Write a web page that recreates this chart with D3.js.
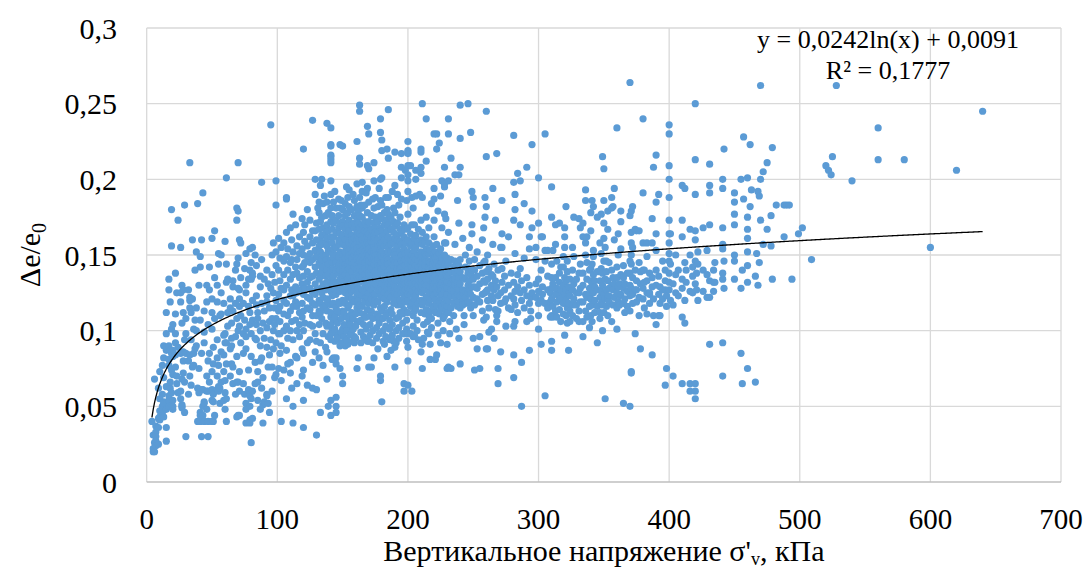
<!DOCTYPE html>
<html>
<head>
<meta charset="utf-8">
<script src="https://cdn.jsdelivr.net/npm/d3@7"></script>
<style>
  body { margin: 0; background: #fff; }
  text { font-family: "Liberation Serif", "DejaVu Serif", serif; fill: #000; }
</style>
</head>
<body>
<svg id="chart" width="1090" height="570"></svg>
<script>
'use strict';

// Each entry: [vertical stress σ'v (kPa), [Δe/e0 values measured at that stress]]
const lowStressCols = [
  [4,[.040]],[5,[.020,.022,.031]],[6,[.020,.068,.026]],[7,[.033,.030,.027,.024,.037]],
  [9,[.042,.025,.036,.062]],[10,[.041,.055,.073,.043,.047]],[12,[.046,.050,.077,.048,.058]],
  [13,[.043,.053,.082,.090,.052,.069]],[15,[.048,.036,.087,.063,.027,.112,.098]],
  [17,[.057,.090,.077,.050,.054,.134,.127,.081]],[18,[.087,.062,.119,.066]],
  [19,[.051,.085,.074,.059,.180,.156,.101]],[20,[.054,.048,.087,.083,.104,.050,.071]],
  [22,[.076,.084,.111,.138,.098,.092]],[23,[.070,.125,.065]],[24,[.059,.173,.089]],
  [26,[.060,.085,.055,.119,.155,.125]],[27,[.051,.049,.068,.050,.105,.130]],
  [28,[.086,.072,.112,.127,.080]],[29,[.046,.066,.183,.094]],[30,[.030,.085,.098,.108]],
  [32,[.080,.127,.058]],[33,[.084,.070,.120,.211,.122,.115]],[34,[.112,.094,.064]],
  [35,[.076,.160,.121]],[36,[.085,.077,.101]],[37,[.107,.140,.088]],[38,[.152,.100,.115,.090]],
  [39,[.040,.184,.062]],[40,[.059,.130,.075]],[41,[.046,.040,.044,.107,.149,.142]],
  [42,[.030,.061,.160,.085]],[43,[.061,.050,.044,.191]],[44,[.053,.052,.040,.099,.092,.113]],
  [46,[.119,.060,.048,.130,.070]],[47,[.060,.040,.030,.080,.104]],[48,[.085,.142,.127,.066]],
  [50,[.061,.054,.040,.073,.101,.121,.161,.112]],[51,[.058,.053,.040,.089,.078]],
  [52,[.044,.166,.108,.135]],[54,[.061,.070,.119,.094,.130,.082]],[55,[.077,.144,.151,.060,.063]],
  [56,[.062,.052,.110]],[57,[.066,.111,.150,.125,.086]],[59,[.054,.073,.084,.097,.118]],
  [60,[.059,.048,.098,.092,.159,.067]],[61,[.055,.040,.144,.092,.201,.132,.078]],
  [62,[.112,.134,.103]],[64,[.115,.121,.070,.088]],[65,[.090,.105,.095,.078]],
  [66,[.065,.076,.133,.129,.113]],[68,[.058,.096,.118,.140]],
  [69,[.043,.144,.108,.066,.083,.181,.173]],[70,[.066,.044,.148,.128,.179,.211,.100]],
  [71,[.060,.116,.103,.073,.044,.160,.121,.127]],[72,[.158,.092,.135,.110]],
  [74,[.065,.085,.098,.118]],[75,[.058,.107,.141]],[76,[.052,.039,.151,.130,.101,.048,.096,.125,.088]],
  [78,[.060,.116,.061,.074,.134]],[79,[.050,.041,.104,.057,.039,.154,.140,.112]],
  [80,[.055,.134,.026,.098,.145,.083]],[81,[.060,.155,.107,.042,.138,.136,.120]],
  [83,[.079,.150,.065,.095]],[84,[.117,.123,.094,.104,.143]],[85,[.066,.054,.073,.108,.112]],
  [87,[.129,.048,.090,.136,.100,.080]],[88,[.062,.082,.198,.118,.147]],[89,[.051,.069,.039,.105]],
  [90,[.053,.134,.095,.113]],[92,[.058,.119,.057,.089,.102,.123,.140]],[93,[.052,.076,.131]],
  [94,[.046,.106,.115,.084]],[95,[.236,.094,.128]],[96,[.060,.076,.137,.108,.150]],
  [97,[.100,.158,.125,.088]],[98,[.104,.115,.132,.069]],[99,[.071,.092,.108,.199,.143,.152,.183,.120]]
];

const midStressCols = [
  [101,[.161,.124,.098,.113,.140,.075]],[102,[.085,.098,.116,.148,.133,.106]],
  [103,[.040,.128,.090,.155,.067]],[105,[.074,.111,.158,.127,.146,.100,.120,.137]],
  [107,[.055,.087,.103,.188,.149,.187,.118,.130,.165]],[108,[.140,.110,.078,.095,.154]],
  [110,[.072,.079,.113,.123,.134,.168,.100,.145]],[111,[.062,.147,.127,.106,.160]],
  [112,[.039,.050,.094,.123,.137,.116,.152,.177]],[114,[.083,.107,.129,.142,.170,.119]],
  [115,[.065,.082,.116,.138,.156,.100,.147,.125]],[117,[.096,.104,.127,.151,.112,.135,.162]],
  [119,[.070,.154,.118,.131,.142,.109,.174,.088]],
  [120,[.036,.054,.074,.085,.220,.143,.150,.124,.113,.165,.100,.136]],
  [121,[.159,.128,.145,.105,.170]],[123,[.064,.149,.132,.115,.122,.139,.156,.092,.180]],
  [125,[.094,.114,.162,.128,.145,.135,.104,.151,.121,.173]],
  [127,[.062,.079,.103,.136,.239,.118,.147,.158,.125,.166,.110]],
  [129,[.086,.200,.166,.131,.142,.153,.117,.124,.190,.098]],
  [130,[.031,.061,.138,.149,.160,.110,.127,.171,.093]],
  [132,[.120,.134,.145,.156,.167,.178,.104,.113,.185,.082]],
  [133,[.046,.092,.112,.160,.143,.128,.152,.118,.136,.172,.196]],
  [134,[.200,.125,.147,.163,.139,.108,.175,.157]],[135,[.077,.131,.115,.150,.168,.142,.122,.184,.098]],
  [137,[.136,.146,.158,.127,.117,.165,.105,.176,.150,.089]],
  [138,[.068,.086,.103,.156,.147,.237,.132,.140,.121,.170,.161,.113,.185]],
  [139,[.050,.128,.153,.166,.144,.119,.178,.096,.137]],
  [141,[.044,.054,.094,.109,.215,.211,.234,.223,.216,.222,.213,.199,.190,.126,.140,.153,.162,.172,.181,.117,.147,.133]],
  [142,[.081,.123,.135,.158,.167,.145,.111,.176,.101,.130,.151]],
  [143,[.082,.154,.141,.128,.162,.171,.118,.136,.148,.185,.107]],
  [145,[.098,.107,.056,.050,.046,.082,.078,.124,.132,.145,.155,.165,.173,.140,.115,.181,.150,.127]],
  [147,[.119,.138,.149,.157,.168,.176,.129,.143,.160,.112,.187,.097]],
  [148,[.223,.075,.090,.134,.152,.164,.126,.145,.171,.118,.181,.140]],
  [150,[.222,.065,.070,.101,.120,.128,.135,.142,.150,.157,.163,.172,.180,.113,.146,.169,.132,.139]],
  [152,[.090,.125,.137,.144,.152,.160,.167,.176,.184,.118,.131,.148,.110,.141,.156]],
  [154,[.091,.103,.122,.128,.134,.143,.149,.155,.161,.170,.178,.115,.140,.164,.188]],
  [155,[.106,.117,.129,.137,.146,.153,.158,.166,.173,.182,.124,.141,.150,.193]],
  [157,[.121,.132,.139,.145,.151,.157,.163,.170,.180,.126,.148,.112,.160,.100]],
  [159,[.092,.096,.119,.127,.135,.142,.150,.156,.161,.168,.176,.186,.130,.145,.153,.171]],
  [161,[.075,.106,.197,.225,.123,.131,.140,.147,.154,.160,.166,.174,.182,.115,.136,.150,.165]],
  [162,[.082,.120,.128,.138,.144,.151,.158,.165,.171,.179,.125,.134,.148,.162]],
  [163,[.249,.245,.214,.210,.106,.117,.124,.132,.141,.146,.155,.159,.168,.176,.188,.136,.152,.164,.112]],
  [165,[.198,.192,.116,.127,.135,.143,.149,.156,.163,.170,.181,.123,.139,.146,.153,.160,.175]],
  [167,[.109,.121,.129,.137,.145,.152,.158,.166,.172,.183,.126,.141,.149,.161,.119,.133]],
  [169,[.194,.235,.209,.093,.114,.122,.131,.140,.147,.155,.162,.169,.178,.127,.136,.151,.158,.166]],
  [170,[.230,.207,.076,.093,.118,.125,.134,.143,.150,.157,.164,.172,.185,.129,.138,.154,.146]],
  [172,[.076,.113,.121,.130,.138,.145,.152,.159,.167,.176,.127,.141,.162,.148,.134]],
  [174,[.211,.199,.082,.117,.124,.133,.140,.148,.156,.163,.171,.181,.129,.137,.152,.160,.144]],
  [175,[.124,.131,.139,.146,.154,.161,.168,.175,.188,.135,.150,.158,.165,.120]],
  [177,[.088,.108,.119,.127,.136,.143,.150,.157,.165,.172,.182,.131,.147,.160,.140]],
  [179,[.240,.231,.200,.070,.067,.115,.123,.132,.139,.146,.153,.160,.168,.176,.186,.128,.143,.157,.150]],
  [180,[.226,.219,.201,.053,.113,.122,.131,.138,.145,.152,.158,.166,.174,.183,.127,.141,.149,.162]],
  [182,[.091,.116,.125,.134,.142,.150,.156,.163,.170,.178,.130,.146,.160,.121,.138]],
  [184,[.220,.083,.112,.119,.128,.136,.144,.151,.159,.166,.173,.180,.133,.148,.156,.124]],
  [185,[.246,.214,.124,.131,.139,.147,.155,.162,.170,.177,.188,.136,.152,.144]],
  [187,[.087,.114,.122,.130,.137,.145,.152,.160,.167,.175,.127,.141,.157,.134]],
  [189,[.093,.118,.126,.135,.143,.150,.158,.165,.172,.181,.131,.147,.139]],
  [190,[.218,.196,.076,.089,.121,.129,.138,.145,.153,.161,.169,.178,.134,.150,.125]],
  [192,[.190,.117,.124,.133,.141,.148,.156,.163,.171,.128,.145,.160,.137]],
  [194,[.112,.120,.129,.137,.144,.152,.159,.167,.175,.133,.148,.141]],
  [195,[.217,.208,.187,.201,.117,.125,.134,.142,.150,.157,.165,.129,.146,.138]],
  [197,[.065,.060,.114,.122,.130,.139,.146,.154,.162,.170,.126,.143,.134]],
  [198,[.206,.098,.119,.127,.135,.143,.151,.158,.167,.131,.147,.139]]
];

// lower and upper fringe of the dense cloud (σ'v 130–245)
const coreFringeCols = [
  [141,[.098,.104,.112]],[144,[.093,.101,.109,.192]],[146,[.095,.105,.113]],[149,[.092,.099,.108,.186]],
  [151,[.096,.104,.112]],[153,[.094,.100,.109,.195]],[156,[.097,.104,.110]],[158,[.093,.101,.108,.190]],
  [160,[.095,.103,.111]],[164,[.092,.099,.107,.183]],[166,[.096,.104,.111]],[168,[.094,.101,.109,.191]],
  [171,[.097,.104,.110]],[173,[.092,.100,.108,.187]],[176,[.095,.102,.111]],[178,[.098,.105,.109,.194]],
  [181,[.093,.100,.108]],[183,[.096,.103,.110,.188]],[186,[.094,.101,.107]],[188,[.097,.104,.111,.192]],
  [191,[.092,.100,.108]],[193,[.095,.102,.109,.183]],[196,[.098,.105,.111]],[199,[.093,.101,.107,.186]],
  [204,[.096,.103,.110,.181]],[207,[.100,.107]],[209,[.190]],[212,[.095,.104]],[215,[.099,.106]],
  [218,[.102,.108,.184]],[223,[.097,.105,.179]],[227,[.100,.108]],[232,[.098,.106]],[237,[.101]],
  [243,[.104,.110]],[131,[.181]],[136,[.189]]
];

const highStressCols = [
  [200,[.225,.219,.218,.217,.203,.199,.192,.209,.064,.080,.089,.098,.112,.120,.128,.136,.144,.152,.160,.168,.177,.132,.148,.140,.124]],
  [202,[.209,.098,.116,.124,.132,.140,.148,.156,.164,.128,.144,.136]],
  [203,[.188,.060,.118,.126,.134,.142,.150,.158,.170,.131,.146]],
  [205,[.097,.113,.121,.129,.137,.145,.153,.161,.170,.133,.149,.141]],
  [206,[.206,.200,.189,.115,.123,.131,.139,.147,.155,.163,.127,.143,.135]],
  [208,[.094,.118,.126,.134,.142,.150,.158,.167,.130,.146,.138]],
  [210,[.220,.086,.208,.218,.204,.112,.120,.128,.136,.144,.152,.160,.173,.132,.148,.140]],
  [211,[.250,.188,.075,.091,.117,.125,.133,.141,.149,.157,.165,.129,.145,.137]],
  [213,[.111,.119,.127,.135,.143,.151,.159,.131,.147,.139]],
  [214,[.240,.212,.175,.114,.122,.130,.138,.146,.154,.162,.134,.150]],
  [216,[.151,.098,.110,.118,.126,.134,.142,.158,.168,.130,.146]],
  [217,[.081,.091,.113,.121,.129,.137,.145,.153,.125,.141]],
  [219,[.116,.124,.132,.140,.148,.156,.128,.144,.136]],
  [220,[.230,.194,.187,.173,.115,.123,.131,.139,.147,.135,.151,.162]],
  [221,[.081,.112,.120,.128,.136,.144,.152,.132,.148]],
  [222,[.230,.220,.084,.117,.125,.133,.141,.149,.157,.129,.145]],
  [224,[.224,.111,.119,.127,.135,.143,.151,.131,.139]],
  [225,[.189,.092,.114,.122,.130,.138,.146,.154,.134,.126]],
  [226,[.199,.168,.147,.116,.124,.132,.140,.148,.136]],
  [228,[.208,.195,.177,.197,.110,.118,.126,.134,.142,.150,.158,.130]],
  [229,[.174,.158,.113,.121,.129,.137,.145,.133]],
  [230,[.075,.091,.116,.124,.132,.140,.148,.128,.136]],
  [231,[.240,.230,.199,.165,.076,.112,.120,.128,.136,.144,.132]],
  [233,[.214,.075,.115,.123,.131,.139,.147,.127]],
  [235,[.118,.126,.134,.142,.130,.110]],[236,[.203,.157,.122,.130,.138,.146,.134]],
  [238,[.186,.144,.116,.124,.132,.140,.128]],[239,[.203,.171,.095,.119,.127,.135,.143]],
  [240,[.249,.227,.208,.078,.115,.123,.131,.139,.147]],[242,[.161,.125,.119,.127,.135,.117]],
  [244,[.118,.126,.134,.142,.150,.122]],[246,[.250,.141,.125,.119,.130,.138]],
  [247,[.155,.119,.133,.127,.146]],[248,[.231,.137,.115,.124]],[249,[.192,.170,.164,.129,.140]],
  [250,[.188,.182,.110,.095,.122,.134]],[251,[.074,.129,.117,.147,.140]],
  [253,[.121,.088,.136,.128,.152]],[255,[.075,.096,.131,.119,.143]],[257,[.160,.124,.138,.113]],
  [258,[.168,.133,.145,.107]],[259,[.188,.175,.146,.125,.132]],[260,[.245,.215,.182,.126,.088,.109,.139]],
  [261,[.088,.120,.127,.134,.150]],[262,[.099,.141,.115]],[264,[.101,.130,.123,.137]],
  [265,[.194,.157,.136,.120]],[266,[.095,.144,.127]],[267,[.173,.133,.114]],[268,[.217,.106,.110,.129]],
  [269,[.113,.075,.065,.140,.123]],[271,[.086,.125,.155,.118]],[272,[.186,.164,.155,.132,.141]],
  [274,[.119,.127,.136]],[275,[.103,.146,.121]],[277,[.162,.130,.115]],[279,[.114,.123,.138]],
  [281,[.229,.198,.173,.069,.084,.103,.121,.132]],[282,[.190,.180,.151,.106,.126,.117]],
  [284,[.204,.112,.137,.129]],[286,[.199,.170,.125,.141]],[287,[.079,.050,.120,.133]],
  [289,[.184,.148,.115,.127]],[291,[.208,.123,.106,.135]],[293,[.162,.154,.087,.118,.130]],
  [294,[.108,.113,.122]],[295,[.223,.179,.168,.125]],[298,[.147,.155,.122,.131]],
  [300,[.201,.171,.101,.110,.118,.126,.134]],[302,[.091,.162,.120,.140]],[303,[.162,.124,.129]],
  [305,[.230,.146,.153,.057,.118]],[307,[.153,.115,.127,.136]],[309,[.119,.109,.125]]
];

const upperStressCols = [
  [310,[.195,.175,.093,.087,.144,.110,.121,.135,.128]],[311,[.153,.109,.116,.131]],
  [313,[.170,.157,.135,.124,.113]],[314,[.109,.146,.119,.128]],[316,[.171,.121,.124,.114,.138,.132]],
  [317,[.121,.106,.127,.142]],[319,[.142,.149,.118,.111,.130]],[320,[.162,.168,.155,.097,.124,.135]],
  [321,[.182,.133,.110,.120,.127]],[322,[.105,.115,.139,.146]],[323,[.087,.118,.129,.124]],
  [324,[.106,.123,.113,.134]],[326,[.110,.127,.155,.117,.140]],[327,[.149,.175,.121,.131]],
  [329,[.134,.117,.125,.108]],[331,[.174,.106,.125,.113,.138]],[332,[.168,.128,.119,.144]],
  [334,[.171,.162,.119,.138,.096,.106,.130]],[336,[.193,.186,.150,.158,.113,.124]],
  [337,[.162,.109,.122,.134,.145]],[339,[.124,.116,.128,.140,.102]],[340,[.178,.141,.166,.110,.121,.133]],
  [341,[.186,.106,.131,.144,.117]],[342,[.182,.153,.125,.137,.149]],[343,[.133,.112,.120,.129]],
  [345,[.092,.175,.116,.127,.139]],[347,[.108,.158,.112,.122,.133]],[348,[.177,.151,.126,.141,.118]],
  [349,[.215,.138,.100,.117,.130]],[350,[.207,.171,.161,.186,.124,.146,.112]],[351,[.055,.155,.121,.134]],
  [352,[.146,.127,.116,.139]],[353,[.179,.167,.133,.121,.110]],[354,[.123,.128,.119,.145]],
  [356,[.106,.181,.188,.130,.140]],[357,[.182,.117,.127,.135]],[358,[.160,.194,.122,.131]],
  [360,[.234,.135,.101,.125,.115,.142]],[361,[.164,.129,.119,.150]],[362,[.117,.131,.123]],
  [363,[.172,.154,.179,.124,.137]],[365,[.135,.052,.128,.118,.143]],[366,[.121,.131,.112]],
  [368,[.126,.138,.116]],[370,[.264,.176,.138,.123,.050,.113,.130,.146]],
  [371,[.179,.165,.158,.150,.144,.073,.072,.128]],[372,[.182,.155,.118,.135,.124]],
  [374,[.098,.167,.127,.140]],[375,[.166,.127,.119,.133]],[377,[.166,.122,.145,.110]],
  [378,[.088,.131,.139]],[380,[.240,.191,.158,.121,.140,.128]],[381,[.140,.115,.132]],
  [383,[.158,.133,.111,.125,.149]],[385,[.125,.124,.138,.118]],[387,[.174,.084,.158,.129,.135]],
  [388,[.208,.110,.121]],[390,[.216,.185,.164,.153,.140,.104,.130]],[392,[.190,.110,.124,.136]],
  [393,[.110,.118,.129]],[395,[.146,.127,.121]],[397,[.127,.064,.133,.140]],[398,[.123,.075,.116]],
  [400,[.236,.230,.209,.200,.188,.173,.164,.158,.138,.132,.127,.146,.151]]
];

const topStressCols = [
  [401,[.164,.120,.144]],[403,[.117,.070,.131]],[405,[.137,.150,.125]],[407,[.123,.140]],
  [410,[.196,.173,.162,.134,.109,.065,.128]],[412,[.194,.120,.105,.145]],[413,[.140,.132]],
  [416,[.167,.065,.060,.126,.150]],[418,[.136,.125,.142]],
  [420,[.250,.213,.190,.166,.160,.065,.060,.055,.131,.146]],[421,[.127,.138]],[422,[.144,.120,.152]],
  [426,[.168,.126,.140]],[429,[.137,.153,.122]],[431,[.210,.196,.191,.170,.091,.122,.133]],
  [434,[.140,.132,.126]],[435,[.132,.145]],[441,[.200,.194,.168,.157,.154,.134,.092,.070,.138]],
  [442,[.220,.128,.146]],[450,[.191,.185,.177,.170,.150,.146,.134]],[455,[.200,.085,.128]],
  [456,[.065,.140]],[457,[.228,.187]],[460,[.201,.175,.167,.161,.152,.132,.075,.143]],
  [462,[.223,.182]],[463,[.193]],[466,[.066,.136]],[467,[.151]],[468,[.192,.130]],[469,[.189,.145]],
  [470,[.262,.200,.173]],[472,[.205,.157]],[475,[.211,.167]],[478,[.176,.156]],[479,[.221,.134]],
  [482,[.183]],[488,[.162,.183]],[490,[.183]],[492,[.183]],[494,[.134]],[499,[.164]],[502,[.168]],
  [509,[.147]],[520,[.209]],[522,[.206]],[524,[.203]],[525,[.215]],[528,[.262]],[540,[.199]],
  [560,[.234,.213]],[580,[.213]],[600,[.155]],[620,[.206]],[640,[.245]]
];

// Excel logarithmic trendline shown on the chart
const trendA = 0.0242, trendB = 0.0091;
const trendLabel = 'y = 0,0242ln(x) + 0,0091';
const r2Label = 'R² = 0,1777';

const xTicks = [0, 100, 200, 300, 400, 500, 600, 700];
const yTicks = [0, 0.05, 0.1, 0.15, 0.2, 0.25, 0.3];
const yTickLabels = ['0', '0,05', '0,1', '0,15', '0,2', '0,25', '0,3'];


const plotLeft = 146.7, plotRight = 1061, plotTop = 28, plotBottom = 482;

const points = [lowStressCols, midStressCols, coreFringeCols, highStressCols, upperStressCols, topStressCols]
  .flat()
  .flatMap(([s, vals]) => vals.map(v => ({s, v})));

const svg = d3.select('#chart');
const x = d3.scaleLinear().domain([0, 700]).range([plotLeft, plotRight]);
const y = d3.scaleLinear().domain([0, 0.3]).range([plotBottom, plotTop]);

// grid
svg.append('g')
  .selectAll('line')
  .data(xTicks)
  .join('line')
  .attr('x1', d => x(d)).attr('x2', d => x(d))
  .attr('y1', plotTop).attr('y2', plotBottom)
  .attr('stroke', '#d9d9d9').attr('stroke-width', 1.3);

svg.append('g')
  .selectAll('line')
  .data(yTicks)
  .join('line')
  .attr('x1', plotLeft).attr('x2', plotRight)
  .attr('y1', d => y(d)).attr('y2', d => y(d))
  .attr('stroke', d => d === 0 ? '#bfbfbf' : '#d9d9d9').attr('stroke-width', 1.3);

// tick labels
svg.append('g')
  .selectAll('text')
  .data(xTicks)
  .join('text')
  .attr('x', d => x(d)).attr('y', 529)
  .attr('text-anchor', 'middle')
  .attr('font-size', 29)
  .text(d => d);

svg.append('g')
  .selectAll('text')
  .data(yTicks)
  .join('text')
  .attr('x', 117).attr('y', d => y(d) + 10.5)
  .attr('text-anchor', 'end')
  .attr('font-size', 30)
  .text((d, i) => yTickLabels[i]);

// points
svg.append('g')
  .selectAll('circle')
  .data(points)
  .join('circle')
  .attr('cx', d => x(d.s)).attr('cy', d => y(d.v))
  .attr('r', 3.6)
  .attr('fill', '#5b9bd5');

// trendline
const sExtent = d3.extent(points, d => d.s);
const trend = d3.range(sExtent[0], sExtent[1] + 1, 1).map(s => ({s, v: trendA * Math.log(s) + trendB}));
svg.append('path')
  .datum(trend)
  .attr('fill', 'none')
  .attr('stroke', '#000')
  .attr('stroke-width', 1.3)
  .attr('d', d3.line().x(d => x(d.s)).y(d => y(d.v)));

// equation
svg.append('text').attr('x', 888).attr('y', 48).attr('text-anchor', 'middle')
  .attr('font-size', 26).text(trendLabel);
svg.append('text').attr('x', 888).attr('y', 79).attr('text-anchor', 'middle')
  .attr('font-size', 26).text(r2Label);

// axis titles
const xTitle = svg.append('text')
  .attr('x', (plotLeft + plotRight) / 2).attr('y', 561)
  .attr('text-anchor', 'middle')
  .attr('font-size', 30);
xTitle.append('tspan').text('Вертикальное напряжение σ\'');
xTitle.append('tspan').attr('font-size', 18).attr('dy', 4).text('v');
xTitle.append('tspan').attr('dy', -4).text(', кПа');

const yTitle = svg.append('text')
  .attr('transform', `translate(40,${(plotTop + plotBottom) / 2}) rotate(-90)`)
  .attr('text-anchor', 'middle')
  .attr('font-size', 30);
yTitle.append('tspan').text('Δe/e');
yTitle.append('tspan').attr('font-size', 20).attr('dy', 6).text('0');
</script>
</body>
</html>
